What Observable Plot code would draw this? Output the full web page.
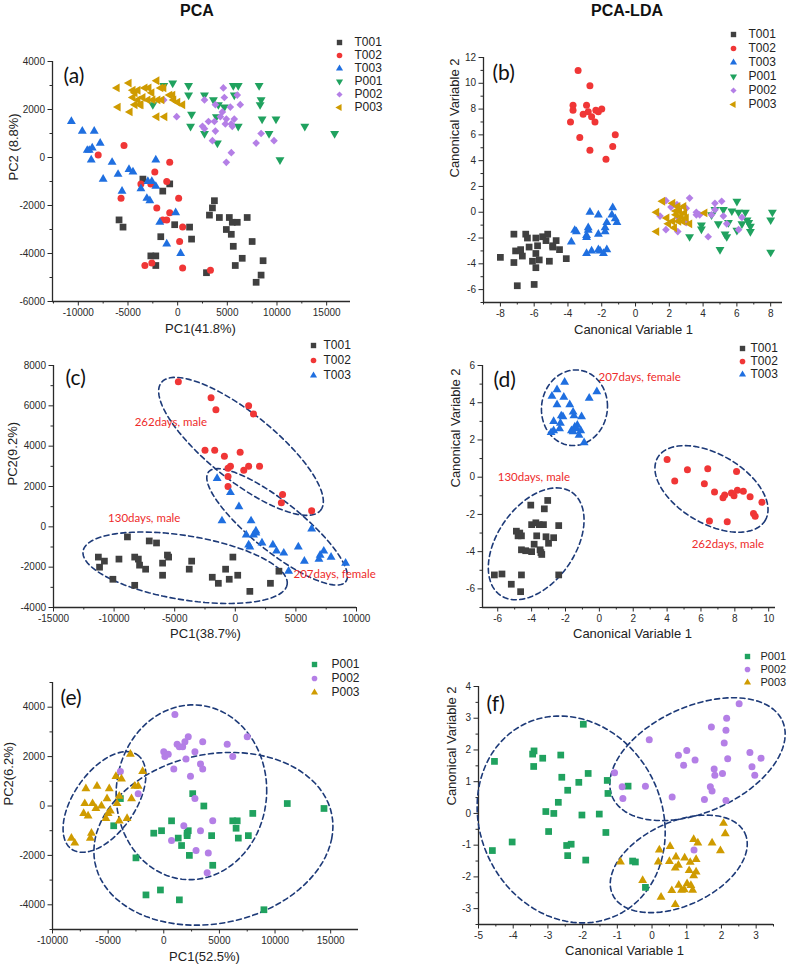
<!DOCTYPE html>
<html><head><meta charset="utf-8">
<script src="https://cdn.jsdelivr.net/npm/d3@7"></script>
<script src="https://cdn.jsdelivr.net/npm/@observablehq/plot@0.6"></script>
<style>
body{margin:0;background:#fff;}
#wrap{position:relative;width:790px;height:968px;overflow:hidden;font-family:"Liberation Sans",Arial,sans-serif;}
.ttl{position:absolute;top:1px;line-height:20px;font-weight:bold;font-size:16px;color:#111;transform:translateX(-50%);white-space:nowrap;}
#wrap svg{position:absolute;}
</style></head><body>
<div id="wrap"><div class="ttl" style="left:197px">PCA</div><div class="ttl" style="left:627px">PCA-LDA</div></div>
<script>
// ---------- data: panel (a) PCA, all groups ----------
const a_T001 = [[-5900,-2600],[-5500,-2900],[-3500,-900],[-800,-1100],[-1500,-1400],[-2700,-4100],[-2200,-4100],[-2200,-4500],[-1700,-3300],[-300,-2800],[1200,-2900],[1400,-3400],[2900,-4800],[3700,-1800],[3500,-2100],[3200,-2400],[4200,-2500],[5200,-2500],[4900,-3000],[5400,-3200],[5600,-3700],[6000,-2700],[5500,-2700],[5800,-4500],[7000,-2500],[6500,-4200],[7500,-3500],[8400,-4900],[8600,-4300],[7900,-5200]];
const a_T002 = [[-5400,500],[-8000,100],[-3700,-1100],[-2300,-600],[-800,-200],[-1100,-1000],[-2700,-1100],[-5700,-1700],[-2100,-2100],[-800,-2300],[100,-1700],[-1500,-2600],[-1100,-2600],[500,-2900],[200,-3500],[-3300,-4500],[-2600,-4400],[500,-4600],[3300,-4700]];
const a_T003 = [[-10700,1500],[-9600,1100],[-8400,1100],[-7800,600],[-8600,400],[-9100,300],[-8700,-100],[-6600,-200],[-7500,-900],[-6000,-700],[-4900,-500],[-4500,-600],[-5600,-1400],[-3700,-1300],[-3000,-1000],[-2600,-1000],[-2200,-1200],[-3100,-1700],[-2800,-1800],[-2200,-100],[-1800,-2700],[-1100,-3600],[-200,-2300],[300,-4000],[-8900,300]];
const a_P001 = [[-1400,3000],[-500,3100],[1100,3000],[1100,2600],[2700,2600],[1400,1800],[1300,1300],[3600,2400],[2700,1000],[4000,600],[3900,1700],[4700,2100],[4100,2200],[5700,2600],[5600,3000],[6100,3000],[8200,3000],[8400,2400],[8300,2200],[8500,1600],[9900,1600],[6100,1300],[9200,1000],[12800,1300],[15800,1000],[10300,-100],[-2500,2200]];
const a_P002 = [[-1400,2400],[-100,1700],[2700,2400],[3800,2200],[4600,2900],[4700,2500],[5300,2100],[6000,2600],[6300,2200],[4500,1900],[4300,1700],[3700,1500],[2500,1300],[3100,1500],[3800,1100],[4800,1400],[5400,1400],[5700,1600],[4900,1600],[5500,1300],[3500,700],[5400,200],[4900,-200],[7900,600],[8400,1000],[9700,700],[2700,1200]];
const a_P003 = [[-6100,2900],[-6000,2100],[-4900,3100],[-4800,1900],[-4500,2800],[-4500,2500],[-4300,2700],[-4000,2400],[-4000,2800],[-3800,2200],[-3500,2500],[-3000,2400],[-3300,2900],[-2900,2900],[-2600,2700],[-2500,2400],[-2100,3200],[-2000,2400],[-1600,2400],[-1700,2900],[-1400,2900],[-1300,1700],[-2100,1700],[-500,2600],[-400,2400],[0,2300],[500,2200],[-800,2600],[-3700,2200],[-4300,2200]];
// ---------- panel (b) PCA-LDA, all groups ----------
const b_T001 = [[-7.2,-1.7],[-6.5,-1.7],[-6.4,-2.0],[-5.9,-2.0],[-5.5,-1.9],[-5.2,-1.7],[-5.3,-2.2],[-4.7,-2.2],[-4.9,-2.7],[-4.5,-2.9],[-6.3,-2.7],[-5.8,-2.6],[-5.9,-3.2],[-7.1,-3.0],[-6.8,-2.9],[-6.7,-3.4],[-5.7,-3.7],[-6.1,-3.8],[-5.1,-3.8],[-5.9,-4.3],[-7.2,-3.9],[-8.0,-3.5],[-4.1,-3.6],[-7.0,-5.7],[-6.0,-5.6],[-4.9,-2.6]];
const b_T002 = [[-3.4,11.0],[-2.7,9.8],[-3.7,8.3],[-3.7,7.9],[-3.85,7.0],[-2.9,8.3],[-3.1,7.6],[-2.8,7.8],[-2.6,7.4],[-2.4,7.0],[-2.35,7.9],[-2.2,7.8],[-2.0,8.0],[-3.3,5.8],[-2.7,4.8],[-1.2,6.0],[-1.35,5.1],[-1.75,4.1]];
const b_T003 = [[-3.8,-2.3],[-3.5,-1.5],[-2.7,0],[-2.2,-0.2],[-2.8,-1.2],[-2.9,-1.8],[-2.9,-1.95],[-2.2,-1.7],[-1.8,-1.5],[-1.8,-1.2],[-1.7,-0.8],[-1.35,0.35],[-1.4,-0.2],[-1.2,-0.5],[-1.1,-0.8],[-2.9,-3.2],[-2.6,-3.0],[-2.2,-2.9],[-1.9,-3.2],[-1.7,-2.9],[-2.8,-1.4],[-3.6,-1.4],[-2.1,-3.0]];
const b_P001 = [[4.7,0.2],[5.2,0.2],[6.0,0.85],[5.7,0.1],[6.1,0.0],[6.5,0.0],[6.6,-0.6],[6.8,-1.1],[6.8,-1.5],[6.7,-0.8],[6.0,-1.4],[5.4,-1.9],[5.3,-1.7],[4.9,-0.9],[4.5,-0.2],[3.9,-1.0],[3.9,-1.3],[3.2,-1.9],[5.0,-2.9],[8.0,-3.1],[8.0,-0.6],[8.1,0.0],[5.5,-0.8],[6.3,-0.9]];
const b_P002 = [[1.8,0.9],[2.1,0.4],[2.45,0.6],[3.2,1.1],[3.0,0.3],[3.6,0.0],[3.8,-0.2],[4.5,-0.2],[4.7,0.7],[5.1,0.85],[5.2,-0.3],[5.4,-0.9],[4.7,0.2],[4.3,-1.9],[6.3,-0.4],[6.1,-1.35],[1.8,-1.35],[2.5,-1.5],[3.0,-0.8],[1.45,-0.3],[2.5,-0.4],[3.6,-0.2]];
const b_P003 = [[1.25,0.0],[1.25,-1.5],[1.6,0.85],[2.2,0.7],[1.85,-0.45],[1.95,-0.9],[2.2,-0.7],[2.4,-0.2],[2.6,0.1],[2.7,-0.3],[2.8,-0.7],[2.85,0.45],[2.9,-0.05],[3.0,-0.45],[2.5,0.45],[2.3,-1.2],[3.2,-0.9],[4.1,-0.05],[2.55,-0.7],[2.4,0.1]];
// ---------- panel (c) PCA, T groups ----------
const c_T001 = [[-11300,-1500],[-11200,-2000],[-10800,-1700],[-10100,-2600],[-9600,-1600],[-8900,-500],[-8300,-1500],[-8300,-2900],[-8000,-1600],[-7900,-1900],[-7400,-2100],[-7100,-700],[-6500,-800],[-6000,-1800],[-6000,-2400],[-5600,-1400],[-5500,-1500],[-3800,-2100],[-3600,-1700],[-1900,-2500],[-1400,-2800],[-800,-2100],[-500,-2600],[-200,-1500],[200,-2400],[1200,-3200],[2900,-2800],[3600,-2200]];
const c_T002 = [[-4700,7200],[-2000,6400],[-1600,5800],[1100,6000],[1500,5600],[-2500,3800],[-1700,3800],[-900,3500],[400,3700],[-400,3000],[-600,2900],[-600,2500],[700,2800],[1100,3000],[2000,3000],[-600,2000],[3900,1600],[3800,1200],[6300,800]];
const c_T003 = [[-1500,2400],[-400,1700],[300,1000],[-1100,300],[1300,300],[1700,-200],[1500,-400],[900,-400],[1100,-900],[1200,-1000],[2200,-800],[3100,-900],[3400,-1200],[4000,-1300],[4400,-2200],[5200,-1000],[5700,-1700],[6300,-100],[6900,-1600],[7000,-1400],[7300,-1200],[7900,-1500],[9100,-1800],[1700,-300]];
// ---------- panel (d) PCA-LDA, T groups ----------
const d_T001 = [[-4.05,-1.5],[-3.05,-1.25],[-3.25,-1.7],[-4.0,-2.55],[-3.75,-2.45],[-3.55,-2.55],[-3.3,-2.55],[-2.4,-2.6],[-4.9,-2.9],[-4.7,-3.0],[-4.8,-3.15],[-4.6,-3.15],[-3.7,-3.15],[-3.15,-3.2],[-2.7,-3.25],[-3.0,-3.55],[-3.85,-3.6],[-4.6,-3.9],[-4.35,-3.95],[-4.0,-4.0],[-3.5,-3.9],[-3.4,-4.15],[-3.45,-4.05],[-6.2,-5.25],[-5.75,-5.2],[-4.6,-5.25],[-2.4,-5.25],[-5.2,-5.75],[-4.65,-6.15]];
const d_T002 = [[4.0,0.95],[4.45,-0.2],[5.2,0.4],[6.4,0.45],[6.2,-0.35],[6.8,-0.8],[7.3,-1.1],[7.4,-0.95],[7.8,-0.85],[7.95,-1.0],[8.15,-0.7],[8.5,-0.75],[8.9,-1.05],[8.1,0.3],[9.6,-1.35],[9.1,-1.95],[9.2,-2.1],[6.5,-2.35],[7.55,-2.4]];
const d_T003 = [[-2.85,2.4],[-2.7,2.5],[-2.35,2.6],[-2.7,3.0],[-2.3,2.9],[-2.8,4.35],[-2.5,4.7],[-2.05,5.1],[-2.1,4.3],[-2.5,3.9],[-2.25,3.3],[-2.15,3.25],[-1.75,3.9],[-1.55,3.5],[-1.5,3.3],[-1.65,2.5],[-1.45,2.7],[-1.3,2.8],[-1.05,3.25],[-1.35,2.6],[-1.1,2.5],[-1.2,2.25],[-0.9,1.85],[-0.6,4.25],[-0.15,4.6],[-1.55,2.45]];
// ---------- panel (e) PCA, P groups ----------
const e_P001 = [[-4500,-800],[-3900,300],[-2500,-2100],[-1600,-3600],[-300,-3400],[1400,-3800],[-900,-1100],[-200,-1000],[700,-600],[1300,-1300],[1600,-1600],[2100,-1100],[2200,-1000],[2100,-1200],[2300,-2000],[2600,500],[3600,0],[4300,-1200],[4400,-2400],[6200,-600],[6600,-600],[6500,-900],[6700,-1300],[7600,-1200],[8000,-300],[9000,-4200],[11100,100],[14400,-100]];
const e_P002 = [[1000,3700],[1200,2500],[1400,2400],[1700,2400],[1900,2600],[2200,2800],[0,2200],[400,2100],[100,2000],[2000,1900],[2800,2200],[3500,2600],[5700,2500],[6200,2000],[7500,2800],[3300,1700],[3500,1500],[900,1500],[2400,1200],[2800,300],[-2300,500],[-3900,1400],[4400,-600],[1800,-800],[3300,-1000],[700,-1400],[2900,-1800],[4000,-1900],[3900,-2700]];
const e_P003 = [[-3000,2100],[-4300,1200],[-3800,1100],[-1900,1400],[-7000,700],[-6000,800],[-4900,700],[-2600,800],[-2300,800],[-2900,300],[-7100,100],[-6400,100],[-6100,-100],[-7200,-300],[-6800,-400],[-5100,300],[-4800,-200],[-5000,-300],[-4200,100],[-4000,-600],[-3300,-500],[-5200,-500],[-6500,-1100],[-6600,-1300],[-8300,-1300],[-8000,-1500],[-4000,400],[-5600,0]];
// ---------- panel (f) PCA-LDA, P groups ----------
const f_P001 = [[-4.54,1.64],[-4.6,-1.17],[-4.03,-0.9],[-3.44,1.87],[-3.4,1.97],[-3.41,1.48],[-3.15,1.74],[-2.63,1.84],[-3.06,0.06],[-2.83,0.0],[-2.7,0.35],[-2.98,-0.57],[-2.6,1.14],[-2.43,0.73],[-2.11,0.98],[-1.84,1.26],[-1.98,2.81],[-2.02,-0.05],[-1.52,-0.02],[-1.29,1.04],[-1.27,0.63],[-1.33,-0.6],[-2.46,-1.01],[-2.33,-0.97],[-2.43,-1.33],[-1.91,-1.47],[-0.69,0.86],[-0.56,-1.5],[-0.48,-1.53],[-0.19,-2.33]];
const f_P002 = [[-0.08,2.32],[-1.08,1.28],[-0.86,0.84],[-0.84,0.47],[-0.19,0.86],[0.58,0.52],[0.76,1.83],[0.91,1.52],[1.0,1.98],[1.24,1.68],[1.51,0.44],[1.68,0.84],[1.73,0.71],[1.71,2.72],[1.79,1.4],[1.81,1.2],[2.03,1.26],[2.08,2.22],[2.15,3.0],[2.13,2.62],[2.18,1.72],[2.13,0.41],[2.51,3.46],[2.82,1.92],[2.88,1.47],[2.96,1.2],[3.14,1.74],[1.21,-1.15]];
const f_P003 = [[-0.91,-1.53],[-0.27,-2.11],[0.26,-2.64],[0.21,-1.15],[0.18,-1.53],[0.52,-1.04],[0.5,-1.51],[0.69,-1.37],[0.67,-1.72],[0.76,-1.63],[0.94,-1.4],[1.1,-1.54],[1.27,-1.45],[1.07,-1.8],[1.27,-1.84],[1.2,-1.96],[0.57,-2.43],[0.77,-2.26],[0.85,-2.42],[0.93,-2.4],[1.01,-2.21],[1.12,-2.27],[1.17,-2.42],[0.67,-2.87],[1.2,-0.82],[1.32,-0.93],[1.73,-0.93],[1.97,-1.17],[2.06,-0.31],[2.11,-0.64]];

// ---------- confidence ellipses: [cx, cy, axis1x, axis1y, axis2x, axis2y] in data units ----------
const c_ellipses = [[470,3990,6570,-3170,1740,1290],[3450,0,5658,-2723,1297,957],[-4140,-2030,8420,-825,414,1568]];
const d_ellipses = [[-1.47,3.73,1.95,0.08,0,2.03],[6.62,-0.63,3.18,-1.68,-1.02,-1.61],[-3.73,-3.58,2.12,2.76,1.87,-1.19]];
const e_ellipses = [[-5330,163,2961,1908,2254,-717],[2485,556,6766,0,150,3539],[4461,-1329,10629,0,1557,3498]];
const f_ellipses = [[-2.33,-0.19,2.69,0,-0.33,3.26],[1.31,1.71,2.45,1.2,0.62,-1.52],[0.77,-1.59,1.91,0.96,0.5,-1.2]];

// ---------- annotations ----------
const c_notes = [{x:-8300,y:5200,t:"262days, male"},{x:-10500,y:400,t:"130days, male"},{x:4800,y:-2350,t:"207days, female"}];
const d_notes = [{x:-0.05,y:5.38,t:"207days, female"},{x:-6.0,y:0,t:"130days, male"},{x:5.45,y:-3.62,t:"262days, male"}];

// ---------- tick values ----------
const a_xMajor = [-10000,-5000,0,5000,10000,15000], a_xMinor = [-12500,-7500,-2500,2500,7500,12500];
const a_yMajor = [-6000,-4000,-2000,0,2000,4000], a_yMinor = [-5000,-3000,-1000,1000,3000];
const b_xMajor = [-8,-6,-4,-2,0,2,4,6,8], b_xMinor = [-9,-7,-5,-3,-1,1,3,5,7];
const b_yMajor = [-6,-4,-2,0,2,4,6,8,10,12], b_yMinor = [-7,-5,-3,-1,1,3,5,7,9,11];
const c_xMajor = [-15000,-10000,-5000,0,5000,10000], c_xMinor = [-12500,-7500,-2500,2500,7500];
const c_yMajor = [-4000,-2000,0,2000,4000,6000,8000], c_yMinor = [-3000,-1000,1000,3000,5000,7000];
const d_xMajor = [-6,-4,-2,0,2,4,6,8,10], d_xMinor = [-5,-3,-1,1,3,5,7,9];
const d_yMajor = [-6,-4,-2,0,2,4,6], d_yMinor = [-7,-5,-3,-1,1,3,5];
const e_xMajor = [-10000,-5000,0,5000,10000,15000], e_xMinor = [-7500,-2500,2500,7500,12500];
const e_yMajor = [-4000,-2000,0,2000,4000], e_yMinor = [-5000,-3000,-1000,1000,3000,5000];
const f_xMajor = [-5,-4,-3,-2,-1,0,1,2,3], f_xMinor = [-4.5,-3.5,-2.5,-1.5,-0.5,0.5,1.5,2.5,3.5];
const f_yMajor = [-3,-2,-1,0,1,2,3,4], f_yMinor = [-3.5,-2.5,-1.5,-0.5,0.5,1.5,2.5,3.5];

// ---------- styling ----------
const COL = {T001:"#404040", T002:"#f03636", T003:"#1f6fe0", P001:"#20a25f", P002:"#b47fe6", P003:"#cf9b00"};
const AX = "#2a2a2a", ELL = "#1d3a78", NOTE = "#ee2b2b";
const s3 = Math.sqrt(3);
const SYM = {
  square: "square",
  circle: "circle",
  up: "triangle",
  down: {draw(c, s){const y=-Math.sqrt(s/(s3*3)); c.moveTo(0,-2*y); c.lineTo(-s3*y,y); c.lineTo(s3*y,y); c.closePath();}},
  left: {draw(c, s){const y=-Math.sqrt(s/(s3*3)); c.moveTo(2*y,0); c.lineTo(-y,-s3*y); c.lineTo(-y,s3*y); c.closePath();}},
  diamond: {draw(c, s){const d=0.72*Math.sqrt(s); c.moveTo(0,-d); c.lineTo(d,0); c.lineTo(0,d); c.lineTo(-d,0); c.closePath();}}
};
const RAD = {square:3.8, circle:3.5, up:3.3, down:3.3, left:3.3, diamond:3.0};
const SHAPE6 = {T001:"square", T002:"circle", T003:"up", P001:"down", P002:"diamond", P003:"left"};
const SHAPE_P = {P001:"square", P002:"circle", P003:"up"};

const wrap = document.getElementById("wrap");
const FONT = "'Liberation Sans', Arial, sans-serif";

function ellipsePts(e){
  const pts=[]; for(let k=0;k<=90;k++){const t=k/90*2*Math.PI; pts.push({x:e[0]+Math.cos(t)*e[2]+Math.sin(t)*e[4], y:e[1]+Math.cos(t)*e[3]+Math.sin(t)*e[5]});}
  return pts;
}

function panel(o){
  const [L,R,T,B] = o.frame;
  const marks = [
    Plot.axisX(o.xMinor, {tickSize:2.5, tickFormat:()=> "", color:AX, label:null}),
    Plot.axisX(o.xMajor, {tickSize:4.5, tickPadding:3, tickFormat:d=>String(d), color:AX, label:null, fontSize:10}),
    Plot.axisY(o.yMinor, {tickSize:2.5, tickFormat:()=> "", color:AX, label:null}),
    Plot.axisY(o.yMajor, {tickSize:4.5, tickPadding:3, tickFormat:d=>String(d), color:AX, label:null, fontSize:10}),
    Plot.ruleX([o.xdom[0]], {stroke:AX, strokeWidth:1.3}),
    Plot.ruleY([o.ydom[0]], {stroke:AX, strokeWidth:1.3})
  ];
  for (const e of (o.ellipses||[])) marks.push(Plot.line(ellipsePts(e), {x:"x", y:"y", stroke:ELL, strokeWidth:1.6, strokeDasharray:"5,3.5", curve:"linear"}));
  for (const [name, data] of o.series){
    const sh = o.shapes[name];
    marks.push(Plot.dot(data, {x:d=>d[0], y:d=>d[1], symbol:SYM[sh], r:RAD[sh], fill:COL[name], stroke:"none"}));
  }
  if (o.notes) marks.push(Plot.text(o.notes, {x:"x", y:"y", text:"t", fill:NOTE, fontSize:11.5, fontFamily:"Lato, 'Open Sans', sans-serif", textAnchor:"start"}));
  marks.push(Plot.text([o.letter], {frameAnchor:"top-left", dx:o.letterPos[0]-L, dy:o.letterPos[1]-T, text:d=>d, textAnchor:"start", fontSize:21, fill:"#111", fontFamily:"Lato, 'Open Sans', sans-serif"}));
  marks.push(Plot.text([o.xLabel], {frameAnchor:"bottom", dx:o.xLabelPos[0]-(L+R)/2, dy:o.xLabelPos[1]-B, text:d=>d, fontSize:13, fill:"#222"}));
  marks.push(Plot.text([o.yLabel], {frameAnchor:"left", rotate:-90, dx:o.yLabelPos[0]-L, dy:o.yLabelPos[1]-(T+B)/2, text:d=>d, fontSize:13, fill:"#222"}));
  const svg = Plot.plot({
    width:790, height:968, marginLeft:L, marginRight:790-R, marginTop:T, marginBottom:968-B,
    x:{domain:o.xdom}, y:{domain:o.ydom},
    style:{background:"transparent", fontFamily:FONT, fontSize:"10px", color:"#222", overflow:"visible"},
    marks
  });
  svg.style.left="0px"; svg.style.top="0px";
  wrap.appendChild(svg);
}

function legend(names, shapes, o){
  const n = names.length, h = (n-1)*o.sp + 16;
  const fs = o.fs || 12;
  const marks = [];
  for (const nm of names){
    const sh = shapes[nm];
    marks.push(Plot.dot([nm], {y:d=>d, frameAnchor:"left", dx:8, symbol:SYM[sh], r:RAD[sh]*0.8, fill:COL[nm], stroke:"none"}));
    marks.push(Plot.text([nm], {y:d=>d, frameAnchor:"left", dx:8+o.tdx, text:d=>d, textAnchor:"start", fontSize:fs, fill:"#222"}));
  }
  const svg = Plot.plot({
    width:o.w || 70, height:h, marginLeft:0, marginRight:0, marginTop:8, marginBottom:8,
    y:{type:"point", domain:names, padding:0, axis:null},
    style:{background:"transparent", fontFamily:FONT, overflow:"visible"},
    marks
  });
  svg.style.left=(o.x-8)+"px"; svg.style.top=(o.y-8)+"px";
  wrap.appendChild(svg);
}

const ALL = ["T001","T002","T003","P001","P002","P003"];
const TS = ["T001","T002","T003"], PS = ["P001","P002","P003"];

panel({frame:[52,350,61,301], xdom:[-12600,17400], ydom:[-6000,4000], xMajor:a_xMajor, xMinor:a_xMinor, yMajor:a_yMajor, yMinor:a_yMinor,
  series:[["T001",a_T001],["T002",a_T002],["T003",a_T003],["P001",a_P001],["P002",a_P002],["P003",a_P003]], shapes:SHAPE6,
  letter:"(a)", letterPos:[63,68], xLabel:"PC1(41.8%)", xLabelPos:[200,332], yLabel:"PC2 (8.8%)", yLabelPos:[13,180]});
panel({frame:[483,782,57,302], xdom:[-9,8.7], ydom:[-7,12], xMajor:b_xMajor, xMinor:b_xMinor, yMajor:b_yMajor, yMinor:b_yMinor,
  series:[["T001",b_T001],["T002",b_T002],["T003",b_T003],["P001",b_P001],["P002",b_P002],["P003",b_P003]], shapes:SHAPE6,
  letter:"(b)", letterPos:[492,65], xLabel:"Canonical Variable 1", xLabelPos:[633,333], yLabel:"Canonical Variable 2", yLabelPos:[454,177]});
panel({frame:[53,356,365,607], xdom:[-15000,10000], ydom:[-4000,8000], xMajor:c_xMajor, xMinor:c_xMinor, yMajor:c_yMajor, yMinor:c_yMinor,
  series:[["T001",c_T001],["T002",c_T002],["T003",c_T003]], shapes:SHAPE6, ellipses:c_ellipses, notes:c_notes,
  letter:"(c)", letterPos:[65,370], xLabel:"PC1(38.7%)", xLabelPos:[205,637], yLabel:"PC2(9.2%)", yLabelPos:[12,485]});
panel({frame:[482,775,365,607], xdom:[-6.9,10.4], ydom:[-7,6], xMajor:d_xMajor, xMinor:d_xMinor, yMajor:d_yMajor, yMinor:d_yMinor,
  series:[["T001",d_T001],["T002",d_T002],["T003",d_T003]], shapes:SHAPE6, ellipses:d_ellipses, notes:d_notes,
  letter:"(d)", letterPos:[493,372], xLabel:"Canonical Variable 1", xLabelPos:[632,637], yLabel:"Canonical Variable 2", yLabelPos:[455,487]});
panel({frame:[52,358,682,929], xdom:[-10000,17500], ydom:[-5000,5000], xMajor:e_xMajor, xMinor:e_xMinor, yMajor:e_yMajor, yMinor:e_yMinor,
  series:[["P001",e_P001],["P002",e_P002],["P003",e_P003]], shapes:SHAPE_P, ellipses:e_ellipses,
  letter:"(e)", letterPos:[60,690], xLabel:"PC1(52.5%)", xLabelPos:[204,960], yLabel:"PC2(6.2%)", yLabelPos:[8,805]});
panel({frame:[478,773,686,924], xdom:[-5,3.5], ydom:[-3.5,4], xMajor:f_xMajor, xMinor:f_xMinor, yMajor:f_yMajor, yMinor:f_yMinor,
  series:[["P001",f_P001],["P002",f_P002],["P003",f_P003]], shapes:SHAPE_P, ellipses:f_ellipses,
  letter:"(f)", letterPos:[486,696], xLabel:"Canonical Variable 1", xLabelPos:[624,954], yLabel:"Canonical Variable 2", yLabelPos:[451,805]});

legend(ALL, SHAPE6, {x:339, y:40, sp:13.85, tdx:15});
legend(ALL, SHAPE6, {x:733, y:33.5, sp:14.1, tdx:15, w:56});
legend(TS, SHAPE6, {x:313, y:344.5, sp:15, tdx:10});
legend(TS, SHAPE6, {x:742, y:346.5, sp:13.7, tdx:8, w:48});
legend(PS, SHAPE_P, {x:314, y:663.5, sp:14.2, tdx:17});
legend(PS, SHAPE_P, {x:747, y:656, sp:13.4, tdx:13, fs:11, w:42});
</script></body></html>
